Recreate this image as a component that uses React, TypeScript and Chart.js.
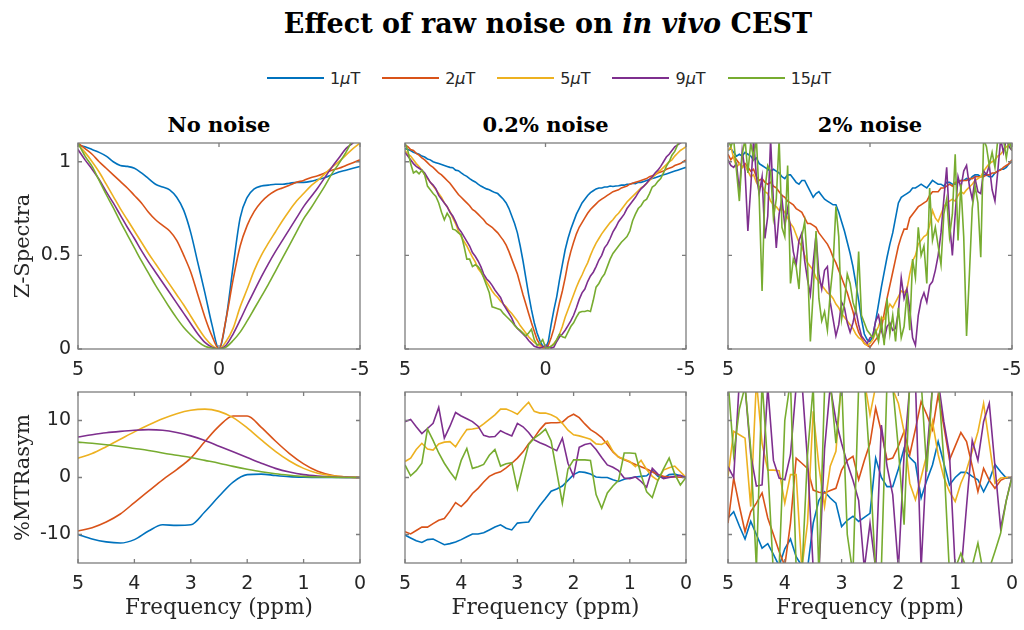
import React, { useEffect, useRef } from 'react';
import { Chart, registerables } from 'chart.js';

Chart.register(...registerables);
Chart.defaults.font.family = 'DejaVu Sans';

// ---------- labels / ticks ----------
const SERIES = ['1μT', '2μT', '5μT', '9μT', '15μT'];
const COLORS = ['#0072BD', '#D95319', '#EDB120', '#7E2F8E', '#77AC30'];
const PANEL_TITLES = ['No noise', '0.2% noise', '2% noise'];
const Z_TICKS_X = [5, 0, -5];
const Z_TICKS_Y = [0, 0.5, 1];
const MTR_TICKS_X = [5, 4, 3, 2, 1, 0];
const MTR_TICKS_Y = [-10, 0, 10];

// ---------- frequency grids (ppm) ----------
const Z_FREQ_SMOOTH = [5, 4.75, 4.5, 4.25, 4, 3.75, 3.5, 3.25, 3, 2.75, 2.5, 2.25, 2, 1.75, 1.5, 1.25, 1, 0.75, 0.5, 0.25, 0, -0.25, -0.5, -0.75, -1, -1.25, -1.5, -1.75, -2, -2.25, -2.5, -2.75, -3, -3.25, -3.5, -3.75, -4, -4.25, -4.5, -4.75, -5];
const Z_FREQ_NOISY = [5, 4.9, 4.8, 4.7, 4.6, 4.5, 4.4, 4.3, 4.2, 4.1, 4, 3.9, 3.8, 3.7, 3.6, 3.5, 3.4, 3.3, 3.2, 3.1, 3, 2.9, 2.8, 2.7, 2.6, 2.5, 2.4, 2.3, 2.2, 2.1, 2, 1.9, 1.8, 1.7, 1.6, 1.5, 1.4, 1.3, 1.2, 1.1, 1, 0.9, 0.8, 0.7, 0.6, 0.5, 0.4, 0.3, 0.2, 0.1, 0, -0.1, -0.2, -0.3, -0.4, -0.5, -0.6, -0.7, -0.8, -0.9, -1, -1.1, -1.2, -1.3, -1.4, -1.5, -1.6, -1.7, -1.8, -1.9, -2, -2.1, -2.2, -2.3, -2.4, -2.5, -2.6, -2.7, -2.8, -2.9, -3, -3.1, -3.2, -3.3, -3.4, -3.5, -3.6, -3.7, -3.8, -3.9, -4, -4.1, -4.2, -4.3, -4.4, -4.5, -4.6, -4.7, -4.8, -4.9, -5];
const MTR_FREQ_SMOOTH = [5, 4.75, 4.5, 4.25, 4, 3.75, 3.5, 3.25, 3, 2.75, 2.5, 2.25, 2, 1.75, 1.5, 1.25, 1, 0.75, 0.5, 0.25, 0];
const MTR_FREQ_NOISY = [5, 4.9, 4.8, 4.7, 4.6, 4.5, 4.4, 4.3, 4.2, 4.1, 4, 3.9, 3.8, 3.7, 3.6, 3.5, 3.4, 3.3, 3.2, 3.1, 3, 2.9, 2.8, 2.7, 2.6, 2.5, 2.4, 2.3, 2.2, 2.1, 2, 1.9, 1.8, 1.7, 1.6, 1.5, 1.4, 1.3, 1.2, 1.1, 1, 0.9, 0.8, 0.7, 0.6, 0.5, 0.4, 0.3, 0.2, 0.1, 0];

// ---------- Z-spectra, no noise ----------
const Z_NONE_1UT = [1.09, 1.08, 1.065, 1.05, 1.03, 1.0, 0.98, 0.975, 0.965, 0.94, 0.91, 0.88, 0.865, 0.85, 0.81, 0.74, 0.62, 0.46, 0.30, 0.13, 0.0, 0.16, 0.44, 0.70, 0.81, 0.855, 0.87, 0.875, 0.88, 0.88, 0.885, 0.89, 0.89, 0.895, 0.905, 0.915, 0.93, 0.945, 0.955, 0.965, 0.975];
const Z_NONE_2UT = [1.10, 1.07, 1.04, 1.0, 0.965, 0.93, 0.895, 0.86, 0.82, 0.78, 0.73, 0.69, 0.66, 0.63, 0.58, 0.50, 0.41, 0.29, 0.17, 0.07, 0.0, 0.16, 0.37, 0.55, 0.66, 0.735, 0.785, 0.82, 0.845, 0.86, 0.875, 0.89, 0.90, 0.915, 0.925, 0.94, 0.955, 0.965, 0.98, 0.995, 1.01];
const Z_NONE_5UT = [1.09, 1.05, 1.0, 0.945, 0.88, 0.815, 0.75, 0.69, 0.63, 0.57, 0.51, 0.455, 0.40, 0.345, 0.29, 0.235, 0.175, 0.115, 0.06, 0.02, 0.0, 0.04, 0.11, 0.225, 0.32, 0.42, 0.50, 0.565, 0.625, 0.685, 0.74, 0.79, 0.83, 0.87, 0.90, 0.935, 0.97, 1.0, 1.035, 1.07, 1.10];
const Z_NONE_9UT = [1.065, 1.01, 0.96, 0.905, 0.84, 0.78, 0.715, 0.65, 0.59, 0.525, 0.465, 0.41, 0.355, 0.30, 0.245, 0.19, 0.135, 0.08, 0.035, 0.01, 0.0, 0.02, 0.08, 0.155, 0.235, 0.31, 0.385, 0.455, 0.52, 0.58, 0.64, 0.70, 0.76, 0.81, 0.86, 0.915, 0.97, 1.02, 1.07, 1.10, 1.14];
const Z_NONE_15UT = [1.10, 1.03, 0.975, 0.90, 0.825, 0.755, 0.68, 0.61, 0.54, 0.47, 0.405, 0.34, 0.28, 0.22, 0.165, 0.115, 0.075, 0.04, 0.015, 0.005, 0.0, 0.01, 0.045, 0.09, 0.15, 0.215, 0.28, 0.345, 0.415, 0.485, 0.555, 0.625, 0.695, 0.75, 0.81, 0.87, 0.935, 0.99, 1.05, 1.12, 1.18];

// ---------- Z-spectra, 0.2% noise ----------
const Z_LOW_1UT = [1.07, 1.065, 1.06, 1.05, 1.045, 1.04, 1.03, 1.025, 1.015, 1.01, 1.0, 0.995, 0.99, 0.985, 0.98, 0.975, 0.97, 0.968, 0.955, 0.952, 0.94, 0.93, 0.922, 0.91, 0.90, 0.892, 0.88, 0.87, 0.862, 0.855, 0.85, 0.842, 0.835, 0.83, 0.815, 0.80, 0.78, 0.75, 0.71, 0.67, 0.62, 0.55, 0.47, 0.38, 0.29, 0.21, 0.14, 0.085, 0.045, 0.015, 0.005, 0.04, 0.13, 0.21, 0.28, 0.37, 0.45, 0.53, 0.59, 0.64, 0.68, 0.72, 0.75, 0.78, 0.80, 0.82, 0.835, 0.845, 0.855, 0.86, 0.86, 0.865, 0.865, 0.87, 0.868, 0.87, 0.872, 0.875, 0.875, 0.88, 0.88, 0.885, 0.883, 0.89, 0.89, 0.895, 0.90, 0.905, 0.91, 0.915, 0.92, 0.925, 0.93, 0.935, 0.94, 0.945, 0.95, 0.955, 0.96, 0.965, 0.97];
const Z_LOW_2UT = [1.09, 1.08, 1.065, 1.06, 1.045, 1.035, 1.02, 1.01, 0.995, 0.98, 0.97, 0.955, 0.94, 0.93, 0.915, 0.90, 0.885, 0.865, 0.845, 0.825, 0.81, 0.795, 0.78, 0.765, 0.745, 0.735, 0.72, 0.705, 0.69, 0.67, 0.66, 0.65, 0.635, 0.62, 0.60, 0.58, 0.555, 0.52, 0.48, 0.44, 0.40, 0.345, 0.29, 0.24, 0.19, 0.14, 0.095, 0.05, 0.025, 0.01, 0.005, 0.02, 0.06, 0.11, 0.18, 0.25, 0.31, 0.38, 0.46, 0.52, 0.57, 0.615, 0.65, 0.675, 0.70, 0.725, 0.745, 0.76, 0.775, 0.79, 0.80, 0.81, 0.82, 0.83, 0.84, 0.845, 0.85, 0.86, 0.865, 0.87, 0.88, 0.885, 0.89, 0.895, 0.90, 0.905, 0.91, 0.92, 0.925, 0.93, 0.94, 0.945, 0.95, 0.96, 0.965, 0.97, 0.98, 0.985, 0.99, 1.0, 1.01];
const Z_LOW_5UT = [1.06, 1.04, 1.03, 1.01, 0.99, 0.975, 0.955, 0.93, 0.91, 0.89, 0.87, 0.85, 0.83, 0.81, 0.78, 0.76, 0.735, 0.70, 0.67, 0.63, 0.60, 0.575, 0.55, 0.52, 0.49, 0.465, 0.43, 0.41, 0.385, 0.36, 0.335, 0.31, 0.29, 0.275, 0.255, 0.24, 0.225, 0.205, 0.19, 0.17, 0.15, 0.125, 0.105, 0.085, 0.065, 0.05, 0.035, 0.025, 0.015, 0.005, 0.0, 0.005, 0.015, 0.03, 0.05, 0.08, 0.12, 0.17, 0.21, 0.25, 0.29, 0.33, 0.365, 0.395, 0.43, 0.46, 0.50, 0.535, 0.565, 0.59, 0.615, 0.635, 0.655, 0.675, 0.69, 0.71, 0.725, 0.745, 0.765, 0.785, 0.80, 0.815, 0.83, 0.845, 0.86, 0.87, 0.885, 0.90, 0.915, 0.93, 0.945, 0.955, 0.97, 0.985, 1.0, 1.01, 1.03, 1.045, 1.06, 1.07, 1.08];
const Z_LOW_9UT = [1.05, 1.03, 1.01, 0.99, 0.975, 0.965, 0.955, 0.94, 0.915, 0.89, 0.875, 0.855, 0.82, 0.80, 0.78, 0.76, 0.73, 0.71, 0.68, 0.645, 0.625, 0.60, 0.575, 0.55, 0.515, 0.495, 0.47, 0.44, 0.40, 0.375, 0.36, 0.34, 0.315, 0.295, 0.275, 0.24, 0.215, 0.19, 0.165, 0.13, 0.11, 0.095, 0.08, 0.065, 0.045, 0.03, 0.015, 0.01, 0.005, 0.01, 0.02, 0.01, 0.005, 0.01, 0.04, 0.065, 0.08, 0.10, 0.125, 0.15, 0.18, 0.22, 0.265, 0.30, 0.32, 0.36, 0.39, 0.41, 0.44, 0.475, 0.50, 0.54, 0.56, 0.59, 0.625, 0.65, 0.68, 0.70, 0.72, 0.75, 0.77, 0.79, 0.81, 0.835, 0.855, 0.87, 0.885, 0.905, 0.92, 0.94, 0.955, 0.975, 1.0, 1.025, 1.04, 1.06, 1.08, 1.09, 1.10, 1.11, 1.12];
const Z_LOW_15UT = [1.10, 1.06, 0.99, 0.94, 0.95, 0.935, 0.955, 0.93, 0.87, 0.85, 0.83, 0.815, 0.78, 0.73, 0.69, 0.725, 0.70, 0.64, 0.635, 0.62, 0.61, 0.55, 0.48, 0.48, 0.44, 0.45, 0.44, 0.42, 0.38, 0.34, 0.30, 0.225, 0.22, 0.215, 0.21, 0.19, 0.175, 0.16, 0.145, 0.125, 0.11, 0.10, 0.085, 0.07, 0.085, 0.105, 0.05, 0.02, 0.03, 0.05, 0.01, 0.005, 0.015, 0.025, 0.05, 0.08, 0.065, 0.06, 0.09, 0.12, 0.14, 0.17, 0.195, 0.20, 0.20, 0.205, 0.20, 0.26, 0.33, 0.35, 0.38, 0.40, 0.44, 0.48, 0.51, 0.53, 0.55, 0.57, 0.585, 0.60, 0.63, 0.685, 0.72, 0.75, 0.765, 0.79, 0.80, 0.83, 0.865, 0.875, 0.895, 0.91, 0.94, 0.975, 1.0, 1.035, 1.055, 1.09, 1.12, 1.13, 1.14];

// ---------- Z-spectra, 2% noise ----------
const Z_HIGH_1UT = [1.06, 1.07, 1.05, 1.03, 1.04, 1.03, 1.05, 1.04, 1.03, 1.01, 1.02, 0.99, 0.98, 0.97, 0.96, 0.95, 0.96, 0.95, 0.94, 0.92, 0.91, 0.93, 0.93, 0.91, 0.89, 0.88, 0.90, 0.90, 0.87, 0.84, 0.81, 0.83, 0.84, 0.82, 0.80, 0.79, 0.78, 0.77, 0.77, 0.73, 0.68, 0.63, 0.57, 0.51, 0.44, 0.35, 0.26, 0.16, 0.08, 0.05, 0.04, 0.07, 0.15, 0.24, 0.33, 0.41, 0.49, 0.56, 0.62, 0.70, 0.78, 0.81, 0.82, 0.83, 0.84, 0.86, 0.86, 0.87, 0.88, 0.87, 0.86, 0.88, 0.90, 0.89, 0.88, 0.88, 0.87, 0.89, 0.89, 0.88, 0.88, 0.89, 0.90, 0.90, 0.91, 0.90, 0.92, 0.93, 0.93, 0.92, 0.93, 0.93, 0.92, 0.92, 0.94, 0.95, 0.96, 0.96, 0.97, 0.99, 1.00];
const Z_HIGH_2UT = [1.04, 1.01, 1.03, 1.01, 0.99, 0.97, 0.99, 0.97, 0.95, 0.96, 0.92, 0.90, 0.91, 0.89, 0.88, 0.89, 0.87, 0.86, 0.84, 0.82, 0.81, 0.79, 0.78, 0.77, 0.75, 0.74, 0.73, 0.70, 0.67, 0.67, 0.66, 0.65, 0.62, 0.60, 0.58, 0.56, 0.53, 0.49, 0.46, 0.42, 0.38, 0.34, 0.30, 0.25, 0.20, 0.14, 0.09, 0.06, 0.03, 0.02, 0.01, 0.03, 0.05, 0.07, 0.11, 0.19, 0.27, 0.34, 0.41, 0.48, 0.55, 0.60, 0.64, 0.64, 0.70, 0.72, 0.74, 0.76, 0.77, 0.78, 0.79, 0.82, 0.84, 0.84, 0.84, 0.86, 0.86, 0.87, 0.88, 0.87, 0.89, 0.89, 0.90, 0.90, 0.90, 0.91, 0.91, 0.92, 0.92, 0.92, 0.92, 0.93, 0.93, 0.94, 0.94, 0.95, 0.955, 0.97, 0.98, 0.99, 1.01];
const Z_HIGH_5UT = [1.06, 1.08, 1.02, 0.97, 0.99, 0.97, 0.98, 0.95, 0.92, 0.93, 0.89, 0.865, 0.87, 0.84, 0.83, 0.79, 0.77, 0.76, 0.74, 0.75, 0.73, 0.70, 0.67, 0.65, 0.61, 0.57, 0.55, 0.50, 0.46, 0.44, 0.42, 0.38, 0.36, 0.34, 0.32, 0.30, 0.29, 0.27, 0.24, 0.22, 0.19, 0.17, 0.15, 0.13, 0.11, 0.08, 0.06, 0.05, 0.03, 0.02, 0.03, 0.05, 0.09, 0.12, 0.17, 0.16, 0.20, 0.24, 0.22, 0.25, 0.28, 0.31, 0.30, 0.32, 0.40, 0.47, 0.50, 0.56, 0.58, 0.60, 0.61, 0.66, 0.74, 0.70, 0.68, 0.72, 0.76, 0.78, 0.79, 0.80, 0.79, 0.82, 0.84, 0.83, 0.85, 0.865, 0.88, 0.90, 0.91, 0.92, 0.95, 0.97, 0.99, 1.0, 1.01, 1.03, 1.04, 1.06, 1.08, 1.09, 1.11];
const Z_HIGH_9UT = [1.01, 0.98, 0.97, 0.99, 0.84, 1.06, 0.95, 0.63, 0.86, 1.12, 0.92, 0.83, 0.92, 0.59, 0.71, 1.12, 0.78, 0.54, 0.72, 0.80, 0.66, 0.75, 0.65, 0.52, 0.45, 0.58, 0.62, 0.47, 0.37, 0.29, 0.46, 0.61, 0.40, 0.32, 0.42, 0.44, 0.25, 0.16, 0.07, 0.13, 0.25, 0.22, 0.14, 0.09, 0.14, 0.21, 0.13, 0.07, 0.05, 0.03, 0.06, 0.07, 0.15, 0.18, 0.10, 0.05, 0.12, 0.14, 0.10, 0.11, 0.20, 0.38, 0.27, 0.32, 0.21, 0.06, 0.02, 0.18, 0.26, 0.30, 0.25, 0.34, 0.36, 0.42, 0.50, 0.62, 0.80, 0.97, 0.68, 0.50, 0.72, 0.92, 0.86, 0.95, 0.98, 0.87, 0.80, 0.91, 0.84, 0.83, 0.95, 0.93, 0.98, 0.85, 0.79, 0.95, 1.12, 1.05, 1.12, 1.08, 1.06];
const Z_HIGH_15UT = [1.12, 1.08, 1.12, 0.95, 0.79, 1.04, 1.12, 0.94, 1.10, 1.02, 1.12, 0.80, 0.31, 0.85, 0.98, 0.95, 0.70, 0.80, 1.12, 0.65, 0.60, 0.98, 0.35, 0.48, 0.44, 0.32, 0.60, 0.68, 0.45, 0.04, 0.30, 0.63, 0.27, 0.15, 0.20, 0.10, 0.30, 0.45, 0.76, 0.60, 0.16, 0.25, 0.40, 0.35, 0.25, 0.20, 0.52, 0.18, 0.14, 0.10, 0.08, 0.06, 0.10, 0.04, 0.15, 0.02, 0.27, 0.08, 0.18, 0.04, 0.22, 0.06, 0.12, 0.30, 0.10, 0.48, 0.38, 0.65, 0.50, 0.55, 0.35, 0.86, 0.58, 0.65, 0.55, 0.45, 0.72, 0.80, 0.60, 0.72, 1.04, 0.58, 0.88, 0.60, 0.07, 0.40, 0.75, 0.87, 0.78, 0.49, 1.12, 1.08, 0.98, 1.05, 0.97, 1.12, 1.10, 1.12, 1.02, 1.12, 1.06];

// ---------- %MTRasym, no noise ----------
const MTR_NONE_1UT = [-10.0, -10.8, -11.3, -11.5, -10.9, -9.4, -8.3, -8.4, -8.3, -6.0, -3.3, -0.8, 0.5, 0.6, 0.35, 0.15, 0.05, 0.0, 0.0, 0.0, 0.0];
const MTR_NONE_2UT = [-9.4, -8.8, -7.8, -6.4, -4.4, -2.4, -0.4, 1.4, 3.4, 6.3, 9.0, 10.8, 10.8, 8.8, 6.4, 4.2, 2.4, 1.1, 0.4, 0.1, 0.0];
const MTR_NONE_5UT = [3.4, 4.2, 5.4, 6.7, 8.0, 9.2, 10.3, 11.2, 11.8, 12.0, 11.6, 10.5, 8.7, 6.6, 4.6, 2.9, 1.6, 0.75, 0.3, 0.1, 0.0];
const MTR_NONE_9UT = [7.1, 7.5, 7.85, 8.1, 8.3, 8.4, 8.3, 7.9, 7.3, 6.5, 5.5, 4.5, 3.5, 2.5, 1.6, 0.95, 0.5, 0.25, 0.1, 0.03, 0.0];
const MTR_NONE_15UT = [6.2, 6.0, 5.75, 5.45, 5.1, 4.75, 4.3, 3.9, 3.5, 3.0, 2.5, 1.95, 1.45, 1.0, 0.65, 0.4, 0.2, 0.1, 0.05, 0.0, 0.0];

// ---------- %MTRasym, 0.2% noise ----------
const MTR_LOW_1UT = [-10.1, -10.6, -11.1, -11.4, -10.9, -10.8, -11.3, -11.8, -11.6, -11.3, -10.9, -10.4, -9.9, -9.9, -9.7, -9.2, -8.7, -8.3, -8.9, -9.2, -8.0, -7.9, -7.8, -6.3, -4.9, -3.7, -2.4, -2.0, -1.5, -0.5, 0.5, 1.0, 0.9, 0.6, 0.1, 0.0, 0.0, -0.4, -0.7, -0.3, -0.1, 0.1, 0.2, 0.3, 1.2, 0.2, -0.1, 0.5, 0.6, 0.3, 0.0];
const MTR_LOW_2UT = [-9.5, -9.9, -9.3, -8.7, -8.7, -8.1, -7.5, -7.2, -5.9, -4.4, -5.1, -4.1, -2.8, -1.9, -0.8, 0.2, 0.7, 1.0, 1.7, 2.5, 3.4, 4.5, 5.9, 7.0, 8.4, 9.5, 9.6, 9.6, 9.7, 10.6, 11.1, 10.5, 9.4, 8.4, 7.8, 7.0, 5.8, 4.5, 3.6, 3.1, 2.7, 2.3, 1.9, 1.5, 1.0, 0.5, 0.2, 0.1, 0.1, 0.05, 0.0];
const MTR_LOW_5UT = [2.8, 3.4, 4.9, 6.0, 5.0, 4.8, 5.9, 6.2, 6.3, 5.4, 7.0, 8.4, 8.5, 8.7, 9.4, 10.2, 11.0, 12.0, 12.0, 11.6, 11.1, 12.2, 13.2, 11.6, 11.3, 11.3, 11.0, 10.5, 9.5, 8.3, 7.5, 7.3, 7.0, 6.7, 5.9, 5.8, 6.4, 4.6, 3.6, 3.2, 2.8, 1.9, 3.0, 1.4, 0.2, -0.5, 1.3, 1.7, 2.0, 1.0, 0.0];
const MTR_LOW_9UT = [9.8, 10.2, 8.9, 7.7, 8.6, 9.5, 12.3, 6.9, 9.0, 11.4, 10.8, 10.3, 9.8, 9.0, 7.4, 7.1, 7.2, 8.2, 7.7, 7.3, 9.5, 8.9, 7.9, 6.6, 6.1, 5.7, 5.2, 4.7, 6.9, 2.5, 0.2, 5.3, 5.8, 6.0, 4.9, 3.5, 2.2, 1.8, 1.2, -0.1, -0.2, 0.1, -0.7, -1.7, 1.6, 0.6, -0.2, 0.0, 0.2, 0.4, 0.0];
const MTR_LOW_15UT = [2.2, 0.3, 1.2, 2.5, 8.5, 6.5, 4.3, 2.5, 1.0, -0.3, 3.0, 5.1, 1.6, 1.9, 2.3, 3.9, 4.9, 2.0, 2.4, 2.6, -2.0, 2.0, 5.8, 6.9, 7.6, 8.5, 6.4, 1.0, -4.5, 1.5, 3.1, 3.1, 3.1, 3.0, -3.0, -5.4, -2.7, -1.5, -0.5, 4.3, 4.3, 4.2, 0.5, -2.5, -3.5, -0.5, 1.5, 3.4, 0.6, -1.3, 0.0];

// ---------- %MTRasym, 2% noise ----------
const MTR_HIGH_1UT = [-7.1, -6.0, -8.5, -10.8, -7.7, -10.0, -12.4, -11.6, -13.5, -15.5, -12.5, -10.8, -13.9, -15.5, -16.0, -8.0, -4.0, -2.5, -3.6, -4.5, -8.6, -7.5, -6.8, -7.7, -7.0, -6.3, 3.4, 0.0, -1.6, -1.6, 1.5, 5.1, 3.5, 2.5, -3.6, -0.5, 2.2, 6.3, 2.5, -1.3, 0.0, 0.9, 0.9, 0.2, -0.4, -2.5, -0.5, 2.3, 1.0, -0.1, 0.0];
const MTR_HIGH_2UT = [-8.0, -0.1, -5.0, -9.5, -6.0, -4.5, -2.7, -7.1, -10.0, -13.0, -15.5, -8.0, 3.4, 2.5, 1.6, -2.2, -2.6, -2.7, -2.3, -1.9, 1.3, 3.0, 3.7, -0.4, 3.0, 6.0, 12.2, 8.0, 3.1, 3.4, 5.5, 8.1, 4.0, 8.5, 13.3, 11.0, 8.4, 14.5, 9.0, 3.1, 5.5, 7.9, 6.3, 2.0, -2.5, 1.6, -0.5, -1.9, -0.5, 0.0, 0.0];
const MTR_HIGH_5UT = [0.2, 8.1, 7.5, 6.9, -5.1, 17.0, 6.0, 1.3, 1.3, 1.2, -4.5, 0.5, 0.5, -16.0, -8.0, 11.6, 2.0, -5.1, 2.0, 4.6, 17.0, 16.0, 17.0, 16.0, 17.0, 11.0, 16.0, 17.0, 16.5, 15.5, 13.0, 8.0, -1.0, -3.9, 0.0, 4.0, 9.8, 4.0, 0.0, -2.5, -4.2, -1.0, 1.3, 4.6, 8.0, 13.0, 6.0, -1.0, -0.1, 0.0, 0.0];
const MTR_HIGH_9UT = [1.9, 0.0, 17.0, 16.0, 4.0, -1.5, -1.3, 16.0, 3.0, -0.1, -0.4, 4.0, 16.0, 17.0, 3.0, -16.0, -17.0, 5.0, 16.0, 10.0, 6.0, 2.5, -0.5, -4.0, -16.0, -8.0, -16.0, 9.2, 2.0, -3.0, -16.0, 4.0, 16.0, 17.0, -16.0, 4.0, 16.0, 17.0, 9.8, 4.0, -16.0, -17.0, -5.0, 6.5, 3.0, 9.8, 13.0, 2.0, -8.9, -4.0, 0.2];
const MTR_HIGH_15UT = [17.0, 4.0, 12.0, 16.0, 5.0, -16.0, 17.0, 2.0, -17.0, -16.0, 10.0, 17.0, -16.0, -17.0, 4.0, 16.0, -17.0, 15.5, 17.0, 6.0, 17.0, -10.0, -17.0, 16.0, 17.0, 2.0, -17.0, -16.0, 17.0, 16.0, 5.0, -8.3, 17.0, 16.5, 17.0, 1.0, 16.0, 17.0, 3.0, -17.0, -16.0, -13.3, -16.0, -15.5, -11.5, -17.0, -16.0, -13.0, -9.8, -4.0, 0.0];

// ---------- layout (page pixels) ----------
const COL_LEFT = [78, 405, 728];
const COL_WIDTH = [282, 281, 284];
const ROW_TOP = [143, 392];
const ROW_HEIGHT = [206, 171];

const TEXT_DARK = '#262626';
const BOX_COLOR = '#7d7d7d';

type PanelSpec = {
  col: number;
  row: number;
  xs: number[];
  ys: number[][];
  xMin: number;
  xMax: number;
  yMin: number;
  yMax: number;
  xTicks: number[];
  yTicks: number[];
  smooth: boolean;
  yTitle?: string;
  xTitle?: string;
};

const PANELS: PanelSpec[] = [
  { col: 0, row: 0, xs: Z_FREQ_SMOOTH, ys: [Z_NONE_1UT, Z_NONE_2UT, Z_NONE_5UT, Z_NONE_9UT, Z_NONE_15UT], xMin: -5, xMax: 5, yMin: 0, yMax: 1.1, xTicks: Z_TICKS_X, yTicks: Z_TICKS_Y, smooth: true, yTitle: 'Z-Spectra' },
  { col: 1, row: 0, xs: Z_FREQ_NOISY, ys: [Z_LOW_1UT, Z_LOW_2UT, Z_LOW_5UT, Z_LOW_9UT, Z_LOW_15UT], xMin: -5, xMax: 5, yMin: 0, yMax: 1.1, xTicks: Z_TICKS_X, yTicks: Z_TICKS_Y, smooth: false },
  { col: 2, row: 0, xs: Z_FREQ_NOISY, ys: [Z_HIGH_1UT, Z_HIGH_2UT, Z_HIGH_5UT, Z_HIGH_9UT, Z_HIGH_15UT], xMin: -5, xMax: 5, yMin: 0, yMax: 1.1, xTicks: Z_TICKS_X, yTicks: Z_TICKS_Y, smooth: false },
  { col: 0, row: 1, xs: MTR_FREQ_SMOOTH, ys: [MTR_NONE_1UT, MTR_NONE_2UT, MTR_NONE_5UT, MTR_NONE_9UT, MTR_NONE_15UT], xMin: 0, xMax: 5, yMin: -15, yMax: 15, xTicks: MTR_TICKS_X, yTicks: MTR_TICKS_Y, smooth: true, yTitle: '%MTRasym', xTitle: 'Frequency (ppm)' },
  { col: 1, row: 1, xs: MTR_FREQ_NOISY, ys: [MTR_LOW_1UT, MTR_LOW_2UT, MTR_LOW_5UT, MTR_LOW_9UT, MTR_LOW_15UT], xMin: 0, xMax: 5, yMin: -15, yMax: 15, xTicks: MTR_TICKS_X, yTicks: MTR_TICKS_Y, smooth: false, xTitle: 'Frequency (ppm)' },
  { col: 2, row: 1, xs: MTR_FREQ_NOISY, ys: [MTR_HIGH_1UT, MTR_HIGH_2UT, MTR_HIGH_5UT, MTR_HIGH_9UT, MTR_HIGH_15UT], xMin: 0, xMax: 5, yMin: -15, yMax: 15, xTicks: MTR_TICKS_X, yTicks: MTR_TICKS_Y, smooth: false, xTitle: 'Frequency (ppm)' },
];

const boxPlugin = {
  id: 'matlabBox',
  afterDatasetsDraw(chart: any) {
    const { ctx, chartArea: a, scales } = chart;
    const L = 4;
    ctx.save();
    ctx.strokeStyle = BOX_COLOR;
    ctx.lineWidth = 1.3;
    ctx.strokeRect(a.left, a.top, a.right - a.left, a.bottom - a.top);
    ctx.beginPath();
    for (const t of scales.x.ticks) {
      const px = scales.x.getPixelForValue(t.value);
      ctx.moveTo(px, a.bottom);
      ctx.lineTo(px, a.bottom - L);
      ctx.moveTo(px, a.top);
      ctx.lineTo(px, a.top + L);
    }
    for (const t of scales.y.ticks) {
      const py = scales.y.getPixelForValue(t.value);
      ctx.moveTo(a.left, py);
      ctx.lineTo(a.left + L, py);
      ctx.moveTo(a.right, py);
      ctx.lineTo(a.right - L, py);
    }
    ctx.stroke();
    ctx.restore();
  },
};

function Panel({ spec }: { spec: PanelSpec }) {
  const ref = useRef<HTMLCanvasElement>(null);
  const plotL = COL_LEFT[spec.col];
  const plotW = COL_WIDTH[spec.col];
  const plotT = ROW_TOP[spec.row];
  const plotH = ROW_HEIGHT[spec.row];
  const leftSpace = spec.col === 0 ? plotL : 14;
  const topSpace = 12;
  const rightSpace = 16;
  const bottomSpace = spec.row === 1 ? 60 : 36;
  const cw = leftSpace + plotW + rightSpace;
  const ch = topSpace + plotH + bottomSpace;

  useEffect(() => {
    const datasets = spec.ys.map((vals, si) => ({
      label: SERIES[si],
      data: spec.xs.map((x, i) => ({ x, y: vals[i] })),
      borderColor: COLORS[si],
      backgroundColor: COLORS[si],
      borderWidth: 1.6,
      pointRadius: 0,
      fill: false,
      order: SERIES.length - si,
      cubicInterpolationMode: spec.smooth ? ('monotone' as const) : ('default' as const),
      tension: 0,
    }));
    const chart = new Chart(ref.current as HTMLCanvasElement, {
      type: 'line',
      data: { datasets },
      plugins: [boxPlugin],
      options: {
        responsive: false,
        animation: false,
        events: [],
        layout: { padding: { left: 0, top: topSpace, right: rightSpace, bottom: 0 } },
        plugins: { legend: { display: false }, tooltip: { enabled: false } },
        scales: {
          x: {
            type: 'linear',
            min: spec.xMin,
            max: spec.xMax,
            reverse: true,
            afterBuildTicks: (s: any) => {
              s.ticks = spec.xTicks.map((v) => ({ value: v }));
            },
            afterFit: (s: any) => {
              s.height = bottomSpace;
              s.paddingLeft = 0;
              s.paddingRight = 0;
            },
            grid: { display: false, drawTicks: false },
            border: { display: false },
            ticks: {
              autoSkip: false,
              maxRotation: 0,
              padding: 10,
              color: TEXT_DARK,
              font: { family: 'DejaVu Sans', size: 19 },
              callback: (v: any) => String(v),
            },
            title: {
              display: !!spec.xTitle,
              text: spec.xTitle || '',
              color: TEXT_DARK,
              font: { family: 'DejaVu Serif', size: 21.5 },
              padding: { top: 0, bottom: 2 },
            },
          },
          y: {
            type: 'linear',
            min: spec.yMin,
            max: spec.yMax,
            afterBuildTicks: (s: any) => {
              s.ticks = spec.yTicks.map((v) => ({ value: v }));
            },
            afterFit: (s: any) => {
              s.width = leftSpace;
              s.paddingTop = 0;
              s.paddingBottom = 0;
            },
            grid: { display: false, drawTicks: false },
            border: { display: false },
            ticks: {
              display: spec.col === 0,
              padding: 7,
              color: TEXT_DARK,
              font: { family: 'DejaVu Sans', size: 19 },
              callback: (v: any) => String(v),
            },
            title: {
              display: !!spec.yTitle,
              text: spec.yTitle || '',
              color: TEXT_DARK,
              font: { family: 'DejaVu Serif', size: 21 },
              padding: { top: 11, bottom: 0 },
            },
          },
        },
      } as any,
    });
    return () => chart.destroy();
  }, []);

  return (
    <canvas
      ref={ref}
      width={cw}
      height={ch}
      style={{ position: 'absolute', left: plotL - leftSpace, top: plotT - topSpace, width: cw, height: ch }}
    />
  );
}

function LegendLabel({ text }: { text: string }) {
  const parts = text.split('μ');
  return (
    <span>
      {parts[0]}
      <i>μ</i>
      {parts[1]}
    </span>
  );
}

export default function App() {
  return (
    <div
      style={{
        position: 'absolute',
        left: 0,
        top: 0,
        width: 1024,
        height: 630,
        overflow: 'hidden',
        background: '#ffffff',
      }}
    >
      <div
        style={{
          position: 'absolute',
          left: 548,
          top: 10,
          transform: 'translateX(-50%)',
          whiteSpace: 'nowrap',
          font: 'bold 27px "DejaVu Serif"',
          lineHeight: '27px',
          color: '#000',
        }}
      >
        Effect of raw noise on <i>in vivo</i> CEST
      </div>

      <div
        style={{
          position: 'absolute',
          left: 267,
          top: 68,
          height: 20,
          display: 'flex',
          alignItems: 'center',
          whiteSpace: 'nowrap',
          font: '16px "DejaVu Sans"',
          color: TEXT_DARK,
        }}
      >
        {SERIES.map((s, i) => (
          <div key={s} style={{ display: 'flex', alignItems: 'center', marginRight: 22 }}>
            <div style={{ width: 57, height: 2, background: COLORS[i], marginRight: 6 }} />
            <LegendLabel text={s} />
          </div>
        ))}
      </div>

      {PANEL_TITLES.map((t, i) => (
        <div
          key={t}
          style={{
            position: 'absolute',
            left: COL_LEFT[i] + COL_WIDTH[i] / 2,
            top: 114,
            transform: 'translateX(-50%)',
            whiteSpace: 'nowrap',
            font: 'bold 21px "DejaVu Serif"',
            lineHeight: '21px',
            color: '#000',
          }}
        >
          {t}
        </div>
      ))}

      {PANELS.map((p, i) => (
        <Panel key={i} spec={p} />
      ))}
    </div>
  );
}
